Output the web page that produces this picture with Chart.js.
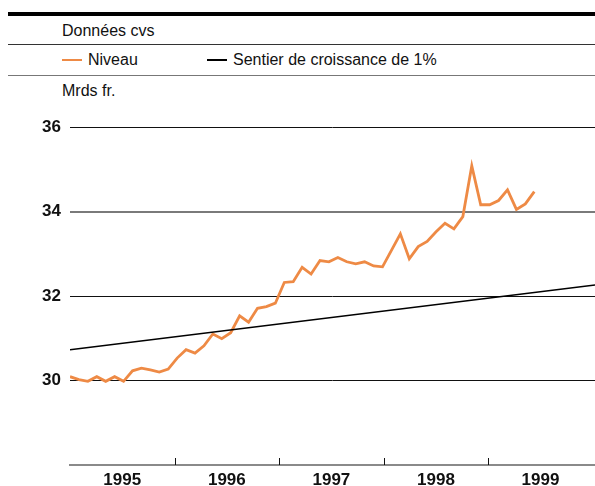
<!DOCTYPE html>
<html>
<head>
<meta charset="utf-8">
<script src="https://cdn.jsdelivr.net/npm/chart.js@4.4.1/dist/chart.umd.min.js"></script>
<style>
  html, body { margin: 0; padding: 0; background: #fff; }
  body { width: 595px; height: 486px; position: relative; overflow: hidden;
         font-family: "Liberation Sans", Arial, sans-serif; color: #111; }
  .rule { position: absolute; left: 8px; right: 0; }
  .txt { position: absolute; font-size: 16px; line-height: 18px; white-space: nowrap; }
  .sw { position: absolute; height: 2px; }
  #wrap { position: absolute; left: 0; top: 0; width: 595px; height: 486px; }
</style>
</head>
<body>
<div class="rule" style="top:12px;height:4px;background:#000;"></div>
<div class="txt" style="left:62px;top:22px;">Données cvs</div>
<div class="rule" style="top:44px;height:1px;background:#333;"></div>
<div class="sw" style="left:62px;top:59px;width:20px;background:#EE8A45;"></div>
<div class="txt" style="left:88px;top:51px;">Niveau</div>
<div class="sw" style="left:207px;top:59px;width:20px;height:1.5px;background:#000;"></div>
<div class="txt" style="left:233px;top:51px;">Sentier de croissance de 1%</div>
<div class="rule" style="top:75px;height:1px;background:#777;"></div>
<div class="txt" style="left:62px;top:82px;">Mrds fr.</div>
<div id="wrap"><canvas id="c" width="595" height="486"></canvas></div>
<script>
// Monthly data, Jan 1995 – May 1999 (Mrds fr., cvs)
const years = ['1995', '1996', '1997', '1998', '1999'];
const niveau = [
  30.09, 30.02, 29.98, 30.09, 29.98, 30.09, 29.98, 30.23, 30.29, 30.25, 30.20, 30.27,
  30.53, 30.73, 30.65, 30.82, 31.10, 30.99, 31.13, 31.53, 31.38, 31.71, 31.75, 31.83,
  32.32, 32.34, 32.68, 32.52, 32.84, 32.81, 32.91, 32.81, 32.76, 32.81, 32.71, 32.69,
  33.08, 33.47, 32.88, 33.17, 33.29, 33.52, 33.72, 33.59, 33.88, 35.08, 34.16, 34.16,
  34.26, 34.51, 34.05, 34.18, 34.47
];
// 1% growth path, read at both ends of the axis
const sentierMonths = [0, 58.8];
const sentierValues = [30.73, 32.26];
const yTicks = [28, 30, 32, 34, 36];

const axisMonthsPerYear = 11.71; // year spacing on the reference axis
const xMax = 58.8;

const niveauPts = niveau.map((v, i) => ({ x: i, y: v }));
const sentierPts = sentierMonths.map((m, i) => ({ x: m, y: sentierValues[i] }));

const yearTickPlugin = {
  id: 'yearTicks',
  afterDraw(chart) {
    const xs = chart.scales.x, ctx = chart.ctx;
    const yb = chart.chartArea.bottom;
    ctx.save();
    ctx.strokeStyle = '#111';
    ctx.lineWidth = 1;
    for (let k = 1; k < years.length; k++) {
      const px = Math.round(xs.getPixelForValue(k * axisMonthsPerYear)) + 0.5;
      ctx.beginPath();
      ctx.moveTo(px, yb - 7);
      ctx.lineTo(px, yb);
      ctx.stroke();
    }
    ctx.restore();
  }
};

new Chart(document.getElementById('c'), {
  type: 'line',
  data: {
    datasets: [
      { label: 'Sentier de croissance de 1%', data: sentierPts, borderColor: '#000',
        borderWidth: 1.5, pointRadius: 0, tension: 0 },
      { label: 'Niveau', data: niveauPts, borderColor: '#EE8A45',
        borderWidth: 2.8, pointRadius: 0, tension: 0, borderJoinStyle: 'miter' }
    ]
  },
  options: {
    responsive: false,
    animation: false,
    layout: { padding: { top: 127, left: 0, right: 0, bottom: 0 } },
    plugins: { legend: { display: false }, tooltip: { enabled: false } },
    scales: {
      x: {
        type: 'linear', min: 0, max: xMax,
        afterBuildTicks(scale) {
          scale.ticks = years.map((y, k) => ({ value: (k + 0.5) * axisMonthsPerYear }));
        },
        afterFit(scale) { scale.height = 21; },
        ticks: {
          autoSkip: false, maxRotation: 0, padding: 5, color: '#111',
          font: { family: 'Liberation Sans', size: 17, weight: 'bold' },
          callback: (v, idx) => years[idx]
        },
        grid: { display: false, drawTicks: false },
        border: { display: true, color: '#8a8a8a', width: 2 }
      },
      y: {
        min: 28, max: 36,
        afterBuildTicks(scale) { scale.ticks = yTicks.map(v => ({ value: v })); },
        afterFit(scale) { scale.width = 70; },
        ticks: {
          padding: 9, color: '#111',
          font: { family: 'Liberation Sans', size: 17, weight: 'bold' },
          callback: v => (v === 28 ? '' : String(v))
        },
        grid: {
          drawTicks: false,
          color: ctx => {
            const v = ctx.tick && ctx.tick.value;
            if (v === 28) return 'rgba(0,0,0,0)';
            if (v === 34) return '#7a7a7a';
            return '#111';
          },
          lineWidth: ctx => (ctx.tick && ctx.tick.value === 34 ? 2 : 1)
        },
        border: { display: false }
      }
    }
  },
  plugins: [yearTickPlugin]
});
</script>
</body>
</html>
